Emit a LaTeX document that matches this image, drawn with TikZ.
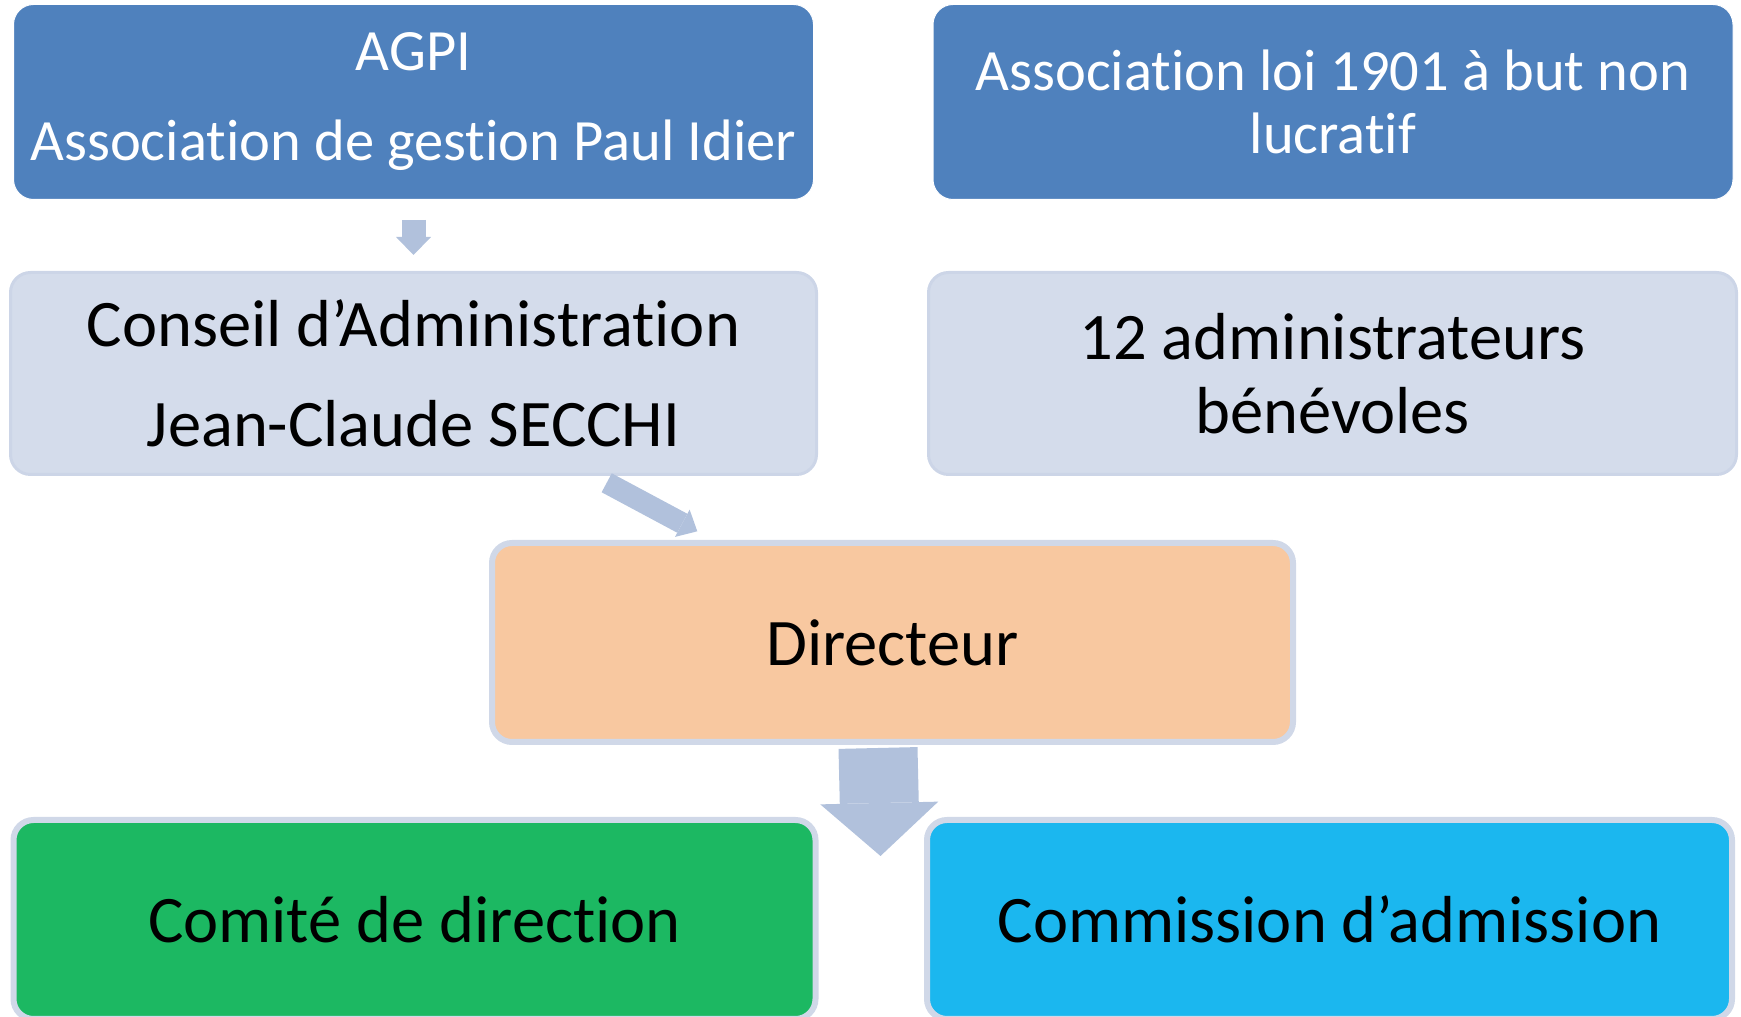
\documentclass[tikz,border=0pt]{standalone}
\usepackage{fontspec}
\setmainfont{Carlito}[Ligatures=NoCommon]
\usetikzlibrary{positioning,arrows.meta}

\definecolor{topblue}{HTML}{4F81BD}
\definecolor{paleblue}{HTML}{D4DCEB}
\definecolor{paleline}{HTML}{CCD5E7}
\definecolor{softline}{HTML}{D0D8E8}
\definecolor{peach}{HTML}{F8C8A0}
\definecolor{leafgreen}{HTML}{1CB862}
\definecolor{skycyan}{HTML}{1BB7EF}
\definecolor{arrowblue}{HTML}{B1C1DC}

\begin{document}
\begin{tikzpicture}[x=1pt, y=1pt,
    box/.style={rectangle, rounded corners=20pt, align=center, inner sep=0pt},
    headbox/.style={box, fill=topblue, draw=white, line width=1pt, text=white,
        minimum width=800pt, minimum height=195pt, font=\fontsize{58.5}{63}\selectfont},
    palebox/.style={box, fill=paleblue, draw=paleline, line width=3pt,
        minimum height=202pt, font=\fontsize{66.5}{74}\selectfont},
    basebox/.style={box, draw=softline, line width=6pt, minimum height=199pt,
        font=\fontsize{66.5}{74}\selectfont},
    fat/.style={arrowblue, line width=#1}]
    \useasboundingbox (0, 0) rectangle (1741, 1017);
    % top row
    \node[headbox] (agpi) at (413.5, 915) {AGPI\\[27pt]Association de gestion Paul Idier};
    \node[headbox] (loi)  at (1333, 915)  {Association loi 1901 à but non\\lucratif};
    % conseil
    \node[palebox, minimum width=806pt] (conseil)   at (413.5, 643.5)  {Conseil d’Administration\\[26pt]Jean-Claude SECCHI};
    \node[palebox, minimum width=808pt] (benevoles) at (1332.5, 643.5) {12 administrateurs\\bénévoles};
    % directeur and below
    \node[basebox, fill=peach, minimum width=801pt] (directeur) at (892.5, 374.5) {Directeur};
    \node[basebox, fill=leafgreen, minimum width=802pt] (comite) at (414.5, 97.5) {Comité de direction};
    \node[basebox, fill=skycyan, minimum width=805pt] (commission) at (1329.5, 97.5) {Commission d’admission};
    % arrow ends
    \coordinate[below=20pt of agpi] (a1);
    \coordinate[above=16pt of conseil] (a2);
    \coordinate[below right=6.8pt and 193.2pt of conseil.south] (c1);
    \coordinate[above right=8.7pt and 208.3pt of directeur.north west] (c2);
    \coordinate[below left=3pt and 14.5pt of directeur.south] (d1);
    \coordinate[below right=39pt and 62pt of comite.north east] (d2);
    \draw[fat=24pt, -{Triangle[length=18pt, width=35pt, line width=0pt]}] (a1) -- (a2);
    \draw[fat=21.5pt, -{Triangle[length=17pt, width=31pt, line width=0pt]}] (c1) -- (c2);
    \draw[fat=79pt, -{Triangle[length=53pt, width=118pt, line width=0pt]}] (d1) -- (d2);
\end{tikzpicture}
\end{document}
